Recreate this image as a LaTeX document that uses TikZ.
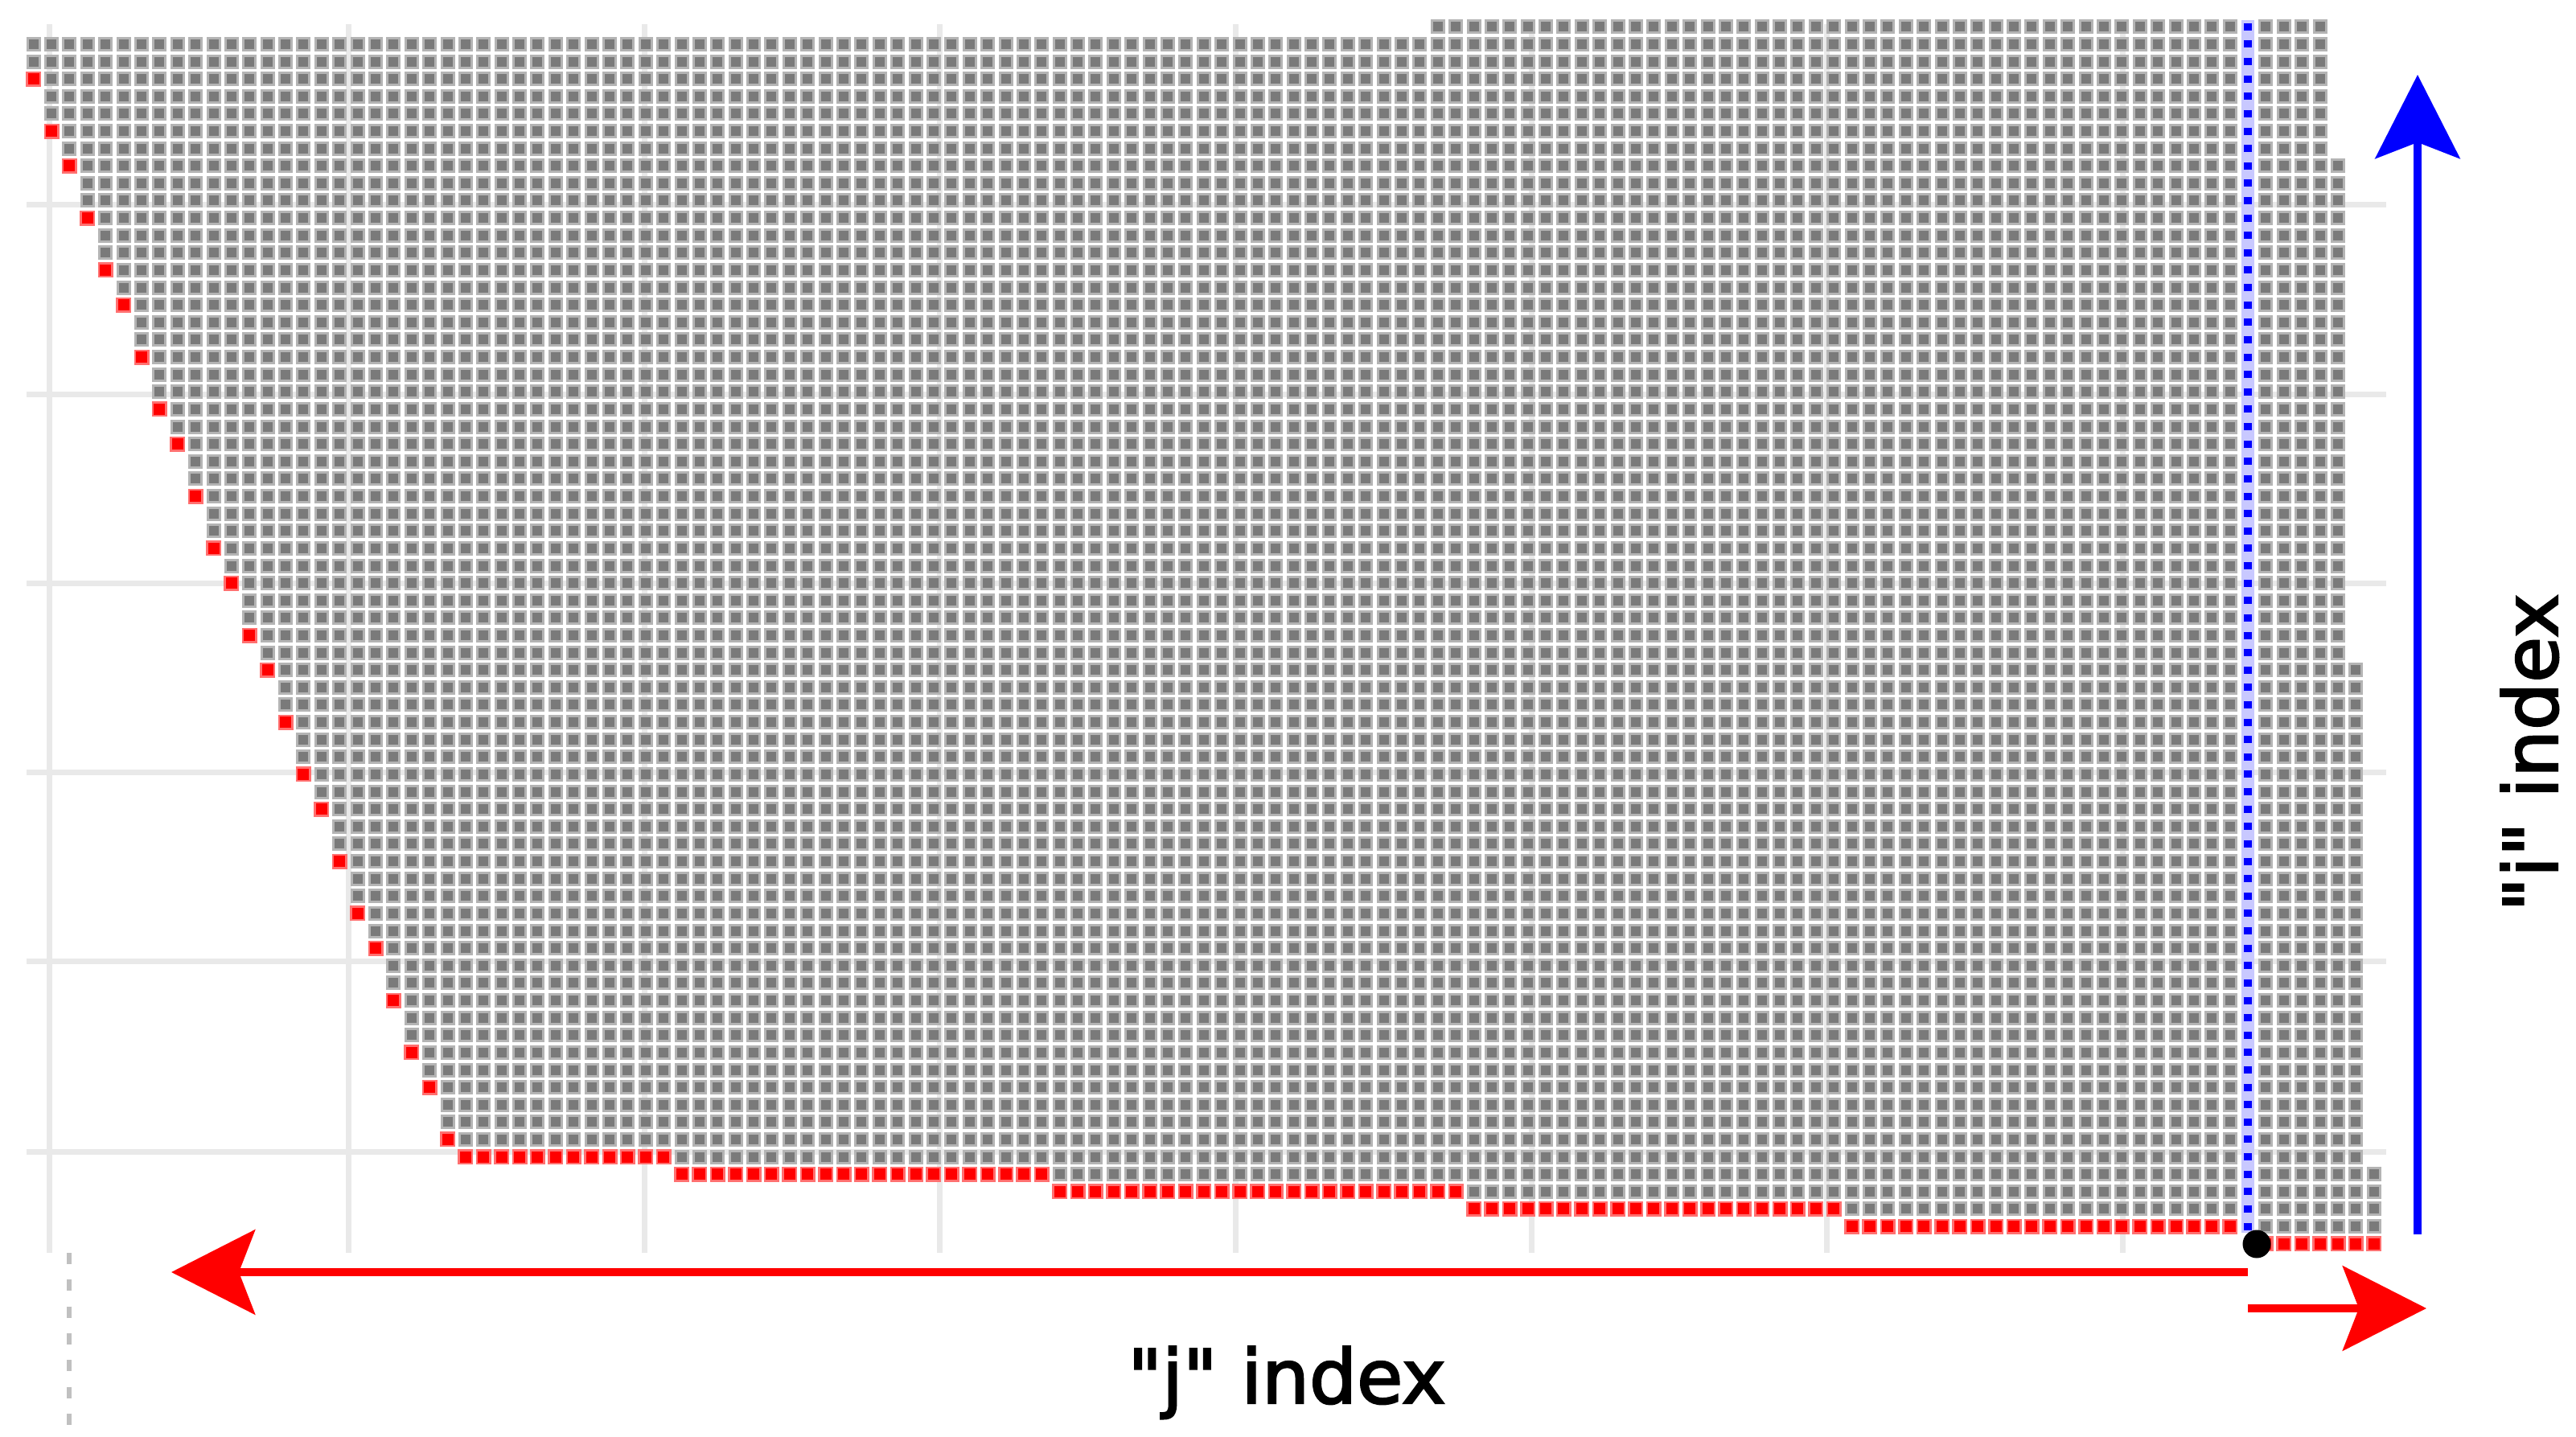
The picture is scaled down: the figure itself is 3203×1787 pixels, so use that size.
\documentclass[tikz,border=0pt]{standalone}
\usepackage{fontspec}
\newfontfamily\labfont{DejaVu Sans}[FakeBold=2.5]
\usetikzlibrary{arrows.meta}
\definecolor{gridc}{HTML}{E9E9E9}
\definecolor{dotcore}{HTML}{7A7A7A}
\definecolor{dothalo}{HTML}{B4B4B4}
\definecolor{redhalo}{HTML}{FF7070}
\definecolor{bluehalo}{HTML}{C8C8FF}
\definecolor{dashgray}{HTML}{C0C0C0}
\begin{document}
\begin{tikzpicture}[x=0.5pt,y=-0.5pt,
  gridline/.style={draw=gridc, line width=3.5pt},
  labeltext/.style={font=\labfont\fontsize{46.5}{56}\selectfont, text=black, inner sep=0pt},
  bigarrow/.style={line width=5pt, -{Stealth[length=52pt,width=52.5pt,inset=10pt]}},
  haloline/.style={draw=dothalo, line width=9pt, dash pattern=on 9pt off 1.81pt},
  coreline/.style={draw=dotcore, line width=6pt, dash pattern=on 6pt off 4.81pt}]
\useasboundingbox (0,0) rectangle (3203,1787);
% panel grid lines
\foreach \gx in {61,433,801,1168,1536,1904,2271,2639}
  \draw[gridline] (\gx,30) -- (\gx,1558);
\foreach \gy in {255,490,725,960,1195,1432}
  \draw[gridline] (33,\gy) -- (2967,\gy);
% dots, column by column
\foreach \c in {0,...,130}{
  \pgfmathtruncatemacro\tp{ifthenelse(\c<78,1,ifthenelse(\c<128,0,ifthenelse(\c==128,8,ifthenelse(\c==129,37,66))))}
  \pgfmathtruncatemacro\bt{ifthenelse(\c<24,floor(3.5+2.652*\c),ifthenelse(\c<36,65,ifthenelse(\c<57,66,ifthenelse(\c<80,67,ifthenelse(\c<101,68,ifthenelse(\c<124,69,70))))))}
  \pgfmathsetmacro\xc{41.7+22.385*\c}
  \pgfmathsetmacro\ytop{33.3+21.62*\tp}
  \pgfmathsetmacro\ylast{33.3+21.62*(\bt-1)}
  \pgfmathsetmacro\yred{33.3+21.62*\bt}
  \ifnum\c=123\relax
    \fill[bluehalo] (\xc-8,\ytop-8) rectangle (\xc+8,33.3+21.62*69+8);
    \draw[blue, line width=5pt, dash pattern=on 4.5pt off 6.31pt] (\xc,\ytop-4.5) -- (\xc,33.3+21.62*69+4.5);
  \else
    \draw[haloline] (\xc,\ytop-9) -- (\xc,\ylast+9);
    \draw[coreline] (\xc,\ytop-6) -- (\xc,\ylast+6);
    \fill[redhalo] (\xc-9.5,\yred-9.5) rectangle (\xc+9.5,\yred+9.5);
    \fill[red] (\xc-7,\yred-7) rectangle (\xc+7,\yred+7);
  \fi
}
% black marker
\node[circle, fill=black, minimum size=17.5pt, inner sep=0pt] (mark) at (2806,1547) {};
% dashed grey line bottom left
\coordinate (dtop) at (86,1558);
\coordinate (dbot) at (86,1777);
\draw[dashgray, line width=3pt, dash pattern=on 7pt off 9.65pt] (dtop) -- (dbot);
% arrows
\coordinate (lstart) at (2795,1582);
\coordinate (ltip) at (213,1582);
\draw[red, bigarrow] (lstart) -- (ltip);
\coordinate (rstart) at (2795,1627);
\coordinate (rtip) at (3017,1627);
\draw[red, bigarrow] (rstart) -- (rtip);
\coordinate (ustart) at (3006,1535);
\coordinate (utip) at (3006,93);
\draw[blue, bigarrow] (ustart) -- (utip);
% labels
\node[labeltext, anchor=base] (jlab) at (1600,1745) {"j" index};
\node[labeltext, anchor=base, rotate=90] (ilab) at (3180,936) {"i" index};
\end{tikzpicture}
\end{document}
